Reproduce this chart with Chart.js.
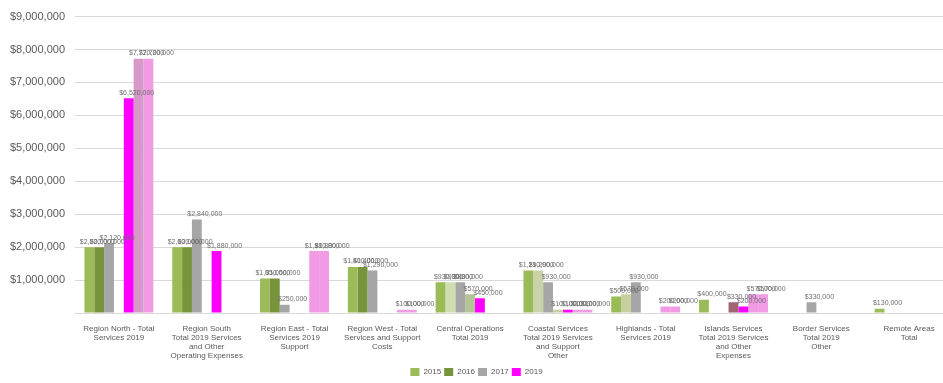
<!DOCTYPE html>
<html>
<head>
<meta charset="utf-8">
<script src="https://cdn.jsdelivr.net/npm/chart.js@4"></script>
<style>
    html, body { margin: 0; padding: 0; background: #fff; overflow: hidden; }
    #wrap { width: 943px; height: 383px; overflow: hidden; }
</style>
</head>
<body>
<!-- the plot runs slightly past the right edge, as in the original crop -->
<div id="wrap"><canvas id="chart" width="953" height="386"></canvas></div>
<script>
// categories (multi-line labels)
const categories = [
    ['Region North - Total', 'Services 2019'],
    ['Region South', 'Total 2019 Services', 'and Other', 'Operating Expenses'],
    ['Region East - Total', 'Services 2019', 'Support'],
    ['Region West - Total', 'Services and Support', 'Costs'],
    ['Central Operations', 'Total 2019'],
    ['Coastal Services', 'Total 2019 Services', 'and Support', 'Other'],
    ['Highlands - Total', 'Services 2019'],
    ['Islands Services', 'Total 2019 Services', 'and Other', 'Expenses'],
    ['Border Services', 'Total 2019', 'Other'],
    ['Remote Areas', 'Total']
];

const seriesNames = ['2015', '2016', '2017', '2018', '2019', '2020', '2021'];

// series values
const seriesA = [2000000, 2000000, 1050000, 1400000, 930000, 1290000, 500000, 400000, 0, 130000];
const seriesB = [2000000, 2000000, 1050000, 1400000, 930000, 1290000, 570000, 0, 0, 0];
const seriesC = [2120000, 2840000, 250000, 1290000, 930000, 930000, 930000, 0, 330000, 0];
const seriesD = [0, 0, 0, 0, 570000, 100000, 0, 330000, 0, 0];
const seriesE = [6520000, 1880000, 0, 0, 450000, 100000, 0, 200000, 0, 0];
const seriesF = [7720000, 0, 1880000, 100000, 0, 100000, 200000, 570000, 0, 0];
const seriesG = [7720000, 0, 1880000, 100000, 0, 100000, 200000, 570000, 0, 0];

// y axis
const yMax = 9000000;
const yStep = 1000000;

const fmt = v => '$' + Math.round(v).toLocaleString('en-US');

const colorsB = ['#77933C', '#77933C', '#77933C', '#77933C', '#D0DDB0', '#C8D4A8', '#C4D09F', '#77933C', '#77933C', '#77933C'];
const colorsD = ['#B3C495', '#B3C495', '#B3C495', '#B3C495', '#B3C495', '#C8D0A0', '#B3C495', '#9E6470', '#B3C495', '#B3C495'];
const colorsF = ['#D598C8', '#F09BE3', '#F09BE3', '#F09BE3', '#F09BE3', '#F09BE3', '#F09BE3', '#F09BE3', '#F09BE3', '#F09BE3'];

const valueLabels = {
    id: 'valueLabels',
    afterDatasetsDraw(chart) {
        const ctx = chart.ctx;
        ctx.save();
        ctx.font = '7px "Liberation Sans", Arial, sans-serif';
        ctx.fillStyle = '#6f6f6f';
        ctx.textAlign = 'center';
        ctx.textBaseline = 'bottom';
        chart.data.datasets.forEach((ds, i) => {
            const meta = chart.getDatasetMeta(i);
            meta.data.forEach((bar, j) => {
                if (ds.data[j] > 0) {
                    ctx.fillText(fmt(ds.data[j]), bar.x + 8, bar.y - 2);
                }
            });
        });
        ctx.restore();
    }
};

const ctx = document.getElementById('chart').getContext('2d');
new Chart(ctx, {
    type: 'bar',
    data: {
        labels: categories,
        datasets: [
            { label: seriesNames[0], data: seriesA, backgroundColor: '#9BBB59' },
            { label: seriesNames[1], data: seriesB, backgroundColor: colorsB },
            { label: seriesNames[2], data: seriesC, backgroundColor: '#A6A6A6' },
            { label: seriesNames[3], data: seriesD, backgroundColor: colorsD },
            { label: seriesNames[4], data: seriesE, backgroundColor: '#FF00FF' },
            { label: seriesNames[5], data: seriesF, backgroundColor: colorsF },
            { label: seriesNames[6], data: seriesG, backgroundColor: '#F09BE3' }
        ]
    },
    options: {
        responsive: false,
        animation: false,
        layout: { padding: { top: 12, right: 0, left: 0, bottom: 0 } },
        datasets: {
            bar: { barPercentage: 1, categoryPercentage: 0.785 }
        },
        plugins: {
            tooltip: { enabled: false },
            legend: {
                display: true,
                position: 'bottom',
                labels: {
                    boxWidth: 9,
                    boxHeight: 8,
                    padding: 3,
                    color: '#595959',
                    font: { size: 8, family: '"Liberation Sans", Arial, sans-serif' },
                    filter: item => [0, 2, 4, 1].includes(item.datasetIndex)
                }
            }
        },
        scales: {
            x: {
                grid: { display: false },
                border: { display: false },
                ticks: {
                    color: '#595959',
                    maxRotation: 0,
                    autoSkip: false,
                    padding: 3,
                    font: { size: 8, family: '"Liberation Sans", Arial, sans-serif', lineHeight: 1.15 }
                },
                afterFit: function(scale) {
                    const legendH = scale.chart.legend ? scale.chart.legend.height : 0;
                    scale.height = scale.chart.height - 313 - legendH;
                }
            },
            y: {
                min: 0,
                max: yMax,
                ticks: {
                    stepSize: yStep,
                    color: '#595959',
                    padding: 10,
                    font: { size: 11, family: '"Liberation Sans", Arial, sans-serif' },
                    callback: function(value) {
                        return value === 0 ? '' : fmt(value);
                    }
                },
                grid: { color: '#D9D9D9', lineWidth: 1, drawTicks: false },
                border: { display: false },
                afterFit: function(scale) {
                    scale.width = 75;
                }
            }
        }
    },
    plugins: [valueLabels]
});
</script>
</body>
</html>
